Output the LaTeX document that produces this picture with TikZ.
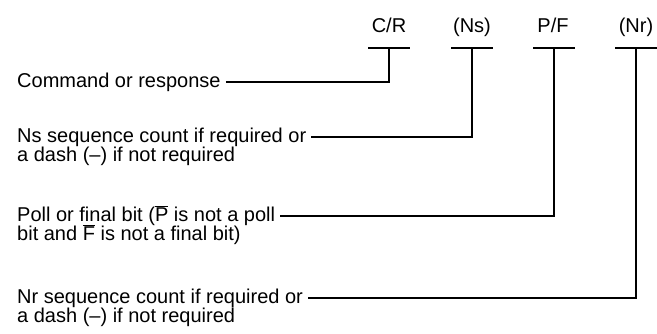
\documentclass[tikz,border=0pt]{standalone}
\usepackage{fontspec}
\setmainfont{Liberation Sans}
\newcommand{\ovl}[1]{$\overline{\hbox{#1}}$}
\begin{document}
\begin{tikzpicture}[x=1pt,y=-1pt,
  txt/.style={font=\fontsize{20}{20}\selectfont, inner sep=0pt, anchor=base west,
              text height=14.4pt, text depth=4.2pt},
  lbl/.style={font=\fontsize{20}{20}\selectfont, inner sep=0pt, anchor=base},
  bar/.style={line width=2.2pt},
  lead/.style={line width=1.6pt}]
\useasboundingbox (0,0) rectangle (657,333);

% field headings and their brackets
\node[lbl] (cr) at (389,32) {C/R};
\node[lbl] (ns) at (472,32) {(Ns)};
\node[lbl] (pf) at (553,32) {P/F};
\node[lbl] (nr) at (636,32) {(Nr)};
\coordinate (crb) at (389,48);
\coordinate (nsb) at (472,48);
\coordinate (pfb) at (554,48);
\coordinate (nrb) at (636,48);
\foreach \b in {crb,nsb,pfb,nrb}
  \draw[bar] ([xshift=-21pt]\b) -- ([xshift=21pt]\b);

% explanations
\node[txt] (cmd) at (17,87) {Command or response};
\node[txt] (nsa) at (17,142) {Ns sequence count if required or};
\node[txt] (nsc) at (17,161) {a dash (--) if not required};
\node[txt] (pfa) at (17,221) {Poll or final bit (\ovl{P} is not a poll};
\node[txt] (pfc) at (17,240) {bit and \ovl{F} is not a final bit)};
\node[txt] (nra) at (17,303) {Nr sequence count if required or};
\node[txt] (nrc) at (17,322) {a dash (--) if not required};

% leaders
\draw[lead] ([xshift=5pt]cmd.east) -| (crb);
\draw[lead] ([xshift=5pt]nsa.east) -| (nsb);
\draw[lead] ([xshift=5pt]pfa.east) -| (pfb);
\draw[lead] ([xshift=5pt]nra.east) -| (nrb);
\end{tikzpicture}
\end{document}
